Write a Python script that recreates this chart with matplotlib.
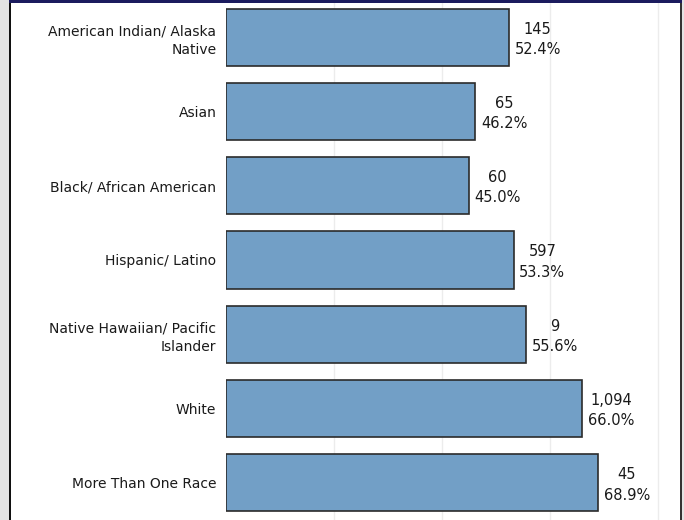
import matplotlib
matplotlib.use("Agg")
import matplotlib.pyplot as plt
from matplotlib.patches import Rectangle

GRUPOS = ["American Indian/ Alaska\nNative", "Asian", "Black/ African American",
          "Hispanic/ Latino", "Native Hawaiian/ Pacific\nIslander", "White",
          "More Than One Race"]
CONTAGENS = [145, 65, 60, 597, 9, 1094, 45]
PERCENTUAIS = [52.4, 46.2, 45.0, 53.3, 55.6, 66.0, 68.9]

COR_BARRA = "#729fc6"
COR_BORDA = "#2b2b2b"

fig = plt.figure(figsize=(6.84, 5.2), dpi=100, facecolor="white")

# moldura do painel (recortado)
fig.patches.append(Rectangle((0, 0), 9 / 684, 1, transform=fig.transFigure,
                             facecolor="#e3e3e3", edgecolor="none", zorder=0))
fig.patches.append(Rectangle((681 / 684, 0), 3 / 684, 1, transform=fig.transFigure,
                             facecolor="#e3e3e3", edgecolor="none", zorder=0))

ax = fig.add_axes([226 / 684, 0, 454 / 684, 1])
y = list(range(len(GRUPOS)))
ax.barh(y, PERCENTUAIS, height=0.77, color=COR_BARRA, edgecolor=COR_BORDA,
        linewidth=1.2, zorder=3)
ax.set_xlim(0, 84.1)
ax.set_ylim(len(GRUPOS) - 0.5, -0.5)
ax.set_xticks([20, 40, 60, 80])
ax.set_xticklabels([])
ax.tick_params(axis="x", length=0)
ax.grid(axis="x", color="#ececec", linewidth=1, zorder=0)
ax.set_yticks(y, GRUPOS, fontsize=10, color="#1a1a1a")
ax.tick_params(axis="y", length=0, pad=7)
for lab in ax.get_yticklabels():
    lab.set_multialignment("right")
    lab.set_linespacing(1.4)
for s in ax.spines.values():
    s.set_visible(False)

for yi, n, p in zip(y, CONTAGENS, PERCENTUAIS):
    ax.annotate(f"{n:,}\n{p:.1f}%", (p, yi), xytext=(4, -1.5), textcoords="offset points",
                ha="left", va="center", multialignment="center",
                fontsize=10.5, color="#1a1a1a", linespacing=1.45)

# bordas: linha escura esquerda/direita e faixa azul no topo
fig.patches.append(Rectangle((9 / 684, 0), 2 / 684, 1, transform=fig.transFigure,
                             facecolor="#111111", edgecolor="none", zorder=5))
fig.patches.append(Rectangle((680 / 684, 0), 2 / 684, 1, transform=fig.transFigure,
                             facecolor="#333333", edgecolor="none", zorder=5))
fig.patches.append(Rectangle((9 / 684, 517 / 520), 673 / 684, 3 / 520,
                             transform=fig.transFigure, facecolor="#1b1b5e",
                             edgecolor="none", zorder=6))

fig.savefig("out.png", dpi=100, facecolor="white")
